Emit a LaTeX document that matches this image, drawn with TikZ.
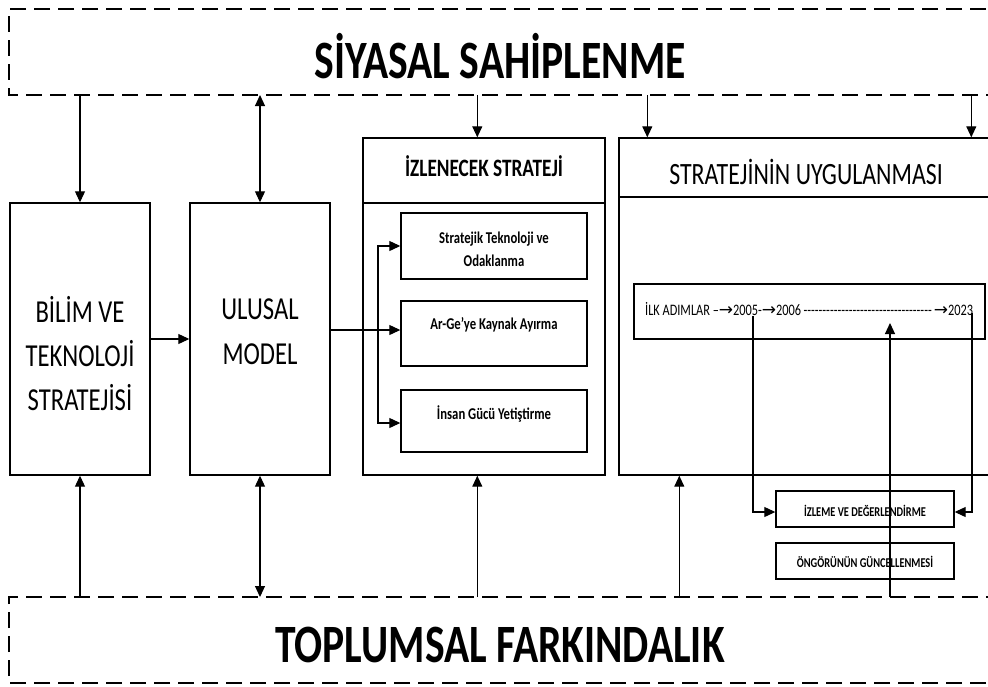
\documentclass[tikz,border=0pt]{standalone}
\usepackage{fontspec}
\setmainfont[FakeStretch=0.77]{Carlito}
\newfontfamily\arrowfont{DejaVu Sans}
\usetikzlibrary{arrows.meta}
\newcommand{\ra}{{\arrowfont\fontsize{17}{16}\selectfont\raisebox{-0.5pt}{→}}}
\begin{document}
\begin{tikzpicture}[x=1pt,y=-1pt,
  box/.style={draw, line width=1.4pt, inner sep=0pt},
  band/.style={line width=2.4pt, dash pattern=on 16pt off 8pt},
  arr/.style={line width=1.1pt, -{Triangle[length=11pt,width=10pt]}},
  darr/.style={line width=1.1pt, {Triangle[length=11pt,width=10pt]}-{Triangle[length=11pt,width=10pt]}},
  txt/.style={inner sep=0pt, align=center}]
\useasboundingbox (0,0) rectangle (988,686);
\begin{scope}
\clip (0,0) rectangle (988,686);
% bands
\draw[band] (1010,9) -- (9,9) -- (9,95) -- (1010,95);
\draw[band] (1010,683) -- (9,683) -- (9,597) -- (1010,597);
\node[txt, font=\bfseries\fontsize{54}{54}\selectfont] (siyasal) at (500,56) {SİYASAL SAHİPLENME};
\node[txt, font=\bfseries\fontsize{54}{54}\selectfont] (toplumsal) at (500,645) {TOPLUMSAL FARKINDALIK};
\coordinate (topband) at (0,95);
\coordinate (botband) at (0,597);

% left boxes
\node[box, minimum width=140pt, minimum height=272pt] (bilim) at (80,339) {};
\node[txt, font=\fontsize{32}{44}\selectfont] (bilimtxt) at (80,354) {BİLİM VE\\TEKNOLOJİ\\STRATEJİSİ};
\node[box, minimum width=140pt, minimum height=272pt] (ulusal) at (260,339) {};
\node[txt, font=\fontsize{32}{45}\selectfont] (ulusaltxt) at (260,332) {ULUSAL\\MODEL};

% izlenecek strateji
\node[box, minimum width=242pt, minimum height=337pt] (izl) at (484,306.5) {};
\draw[line width=1.4pt] (izl.west |- 0,203) -- (izl.east |- 0,203);
\node[txt, font=\bfseries\fontsize{25}{25}\selectfont] (izltxt) at (484,166) {İZLENECEK STRATEJİ};
\node[box, minimum width=186pt, minimum height=66pt] (box1) at (494,246) {};
\node[txt, font=\bfseries\fontsize{16.5}{23}\selectfont] (box1txt) at (494,249) {Stratejik Teknoloji ve\\Odaklanma};
\node[box, minimum width=186pt, minimum height=65pt] (box2) at (494,333.5) {};
\node[txt, font=\bfseries\fontsize{16.5}{16}\selectfont] (box2txt) at (494,325) {Ar-Ge’ye Kaynak Ayırma};
\node[box, minimum width=186pt, minimum height=62pt] (box3) at (494,421) {};
\node[txt, font=\bfseries\fontsize{16.5}{16}\selectfont] (box3txt) at (494,414) {İnsan Gücü Yetiştirme};

% stratejinin uygulanmasi
\node[box, minimum width=392pt, minimum height=337pt] (uyg) at (815,306.5) {};
\draw[line width=1.4pt] (uyg.west |- 0,197) -- (uyg.east |- 0,197);
\node[txt, font=\fontsize{31}{31}\selectfont] (uygtxt) at (806,172) {STRATEJİNİN UYGULANMASI};
\node[box, minimum width=351pt, minimum height=55pt] (ilk) at (809.5,311.5) {};
\node[txt, anchor=west, font=\fontsize{16}{16}\selectfont] (ilktxt) at (645,309)
  {\hbox to 328pt{İLK ADIMLAR --\ra 2005-\ra 2006\leaders\hbox{-}\hfill\ra 2023}};
\node[box, minimum width=178pt, minimum height=36pt] (izleme) at (865,509) {};
\node[box, minimum width=178pt, minimum height=36pt] (ongoru) at (865,561) {};
\node[txt, font=\bfseries\fontsize{13.5}{13.5}\selectfont] (izlemetxt) at (865,511) {İZLEME VE DEĞERLENDİRME};
\node[txt, font=\bfseries\fontsize{13.5}{13.5}\selectfont] (ongorutxt) at (865,562) {ÖNGÖRÜNÜN GÜNCELLENMESİ};

% connectors top
\draw[arr] (bilim.north |- topband) -- (bilim.north);
\draw[darr] (ulusal.north |- topband) -- (ulusal.north);
\draw[arr] ([xshift=115pt]izl.north west |- topband) -- ([xshift=115pt]izl.north west);
\draw[arr] ([xshift=29pt]uyg.north west |- topband) -- ([xshift=29pt]uyg.north west);
\draw[arr] ([xshift=353pt]uyg.north west |- topband) -- ([xshift=353pt]uyg.north west);
% connectors bottom
\draw[arr] (bilim.south |- botband) -- (bilim.south);
\draw[darr] (ulusal.south |- botband) -- (ulusal.south);
\draw[arr] ([xshift=115pt]izl.south west |- botband) -- ([xshift=115pt]izl.south west);
\draw[arr] ([xshift=61pt]uyg.south west |- botband) -- ([xshift=61pt]uyg.south west);
% horizontal flow
\draw[arr] (bilim.east) -- (ulusal.west);
\coordinate (br) at (378,330);
\draw[arr] ([yshift=9pt]ulusal.east) -- (box2.west |- br);
\draw[arr] (br) |- (box1.west);
\draw[arr] (br) |- ([yshift=-2pt]box3.west);
% monitoring loop
\coordinate (y2005) at (753,316);
\coordinate (y2023) at (972,313);
\coordinate (upend) at (890,323);
\draw[arr] (y2005) |- ([yshift=-3pt]izleme.west);
\draw[arr] (y2023) |- ([yshift=-3pt]izleme.east);
\draw[arr] (upend |- botband) -- (upend);
\end{scope}
\end{tikzpicture}
\end{document}
